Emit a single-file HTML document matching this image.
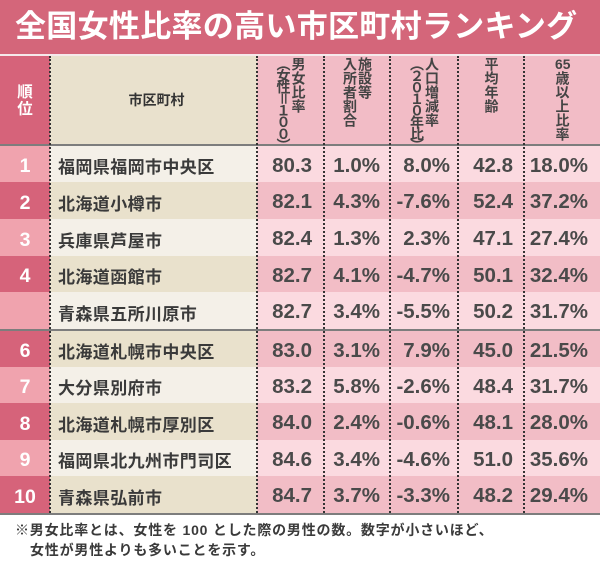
<!DOCTYPE html>
<html><head><meta charset="utf-8"><style>
*{margin:0;padding:0;box-sizing:border-box}
html,body{width:600px;height:563px;background:#fff;overflow:hidden}
body{position:relative;font-family:"Liberation Sans","Noto Sans CJK JP",sans-serif}
.abs{position:absolute}
#title{left:0;top:0;width:600px;height:54px;background:#d4667a;color:#fff;font-family:"Liberation Sans","Noto Sans CJK JP",sans-serif;font-weight:bold;font-size:31px;line-height:54px;padding-left:15px;letter-spacing:0.3px;white-space:nowrap}
#sep{left:0;top:54px;width:600px;height:2px;background:#f6e9eb}
.hrk{left:0;top:56px;width:50px;height:88px;background:#d6637a;color:#fff;font-weight:bold;font-size:15.5px;line-height:17px;text-align:center;padding-top:28px}
.hnm{left:50px;top:56px;width:207px;height:88px;background:#e9e1cd;color:#333;font-weight:bold;font-size:14px;line-height:88px;text-align:center;padding-left:6px}
.hd{top:56px;height:88px;background:#f2bcc6;display:flex;justify-content:center;padding-top:1px;overflow:hidden}
.vt{writing-mode:vertical-rl;font-weight:bold;font-size:14px;line-height:15px;color:#444;white-space:nowrap}
.sq{letter-spacing:-2.4px}
.tcy{text-combine-upright:all}
.row{position:absolute;left:0;width:600px}
.row div{position:absolute;top:0;height:100%}
.rk{left:0;width:50px;color:#fff;font-weight:bold;font-size:19.5px;text-align:center;display:flex;align-items:center;justify-content:center;padding-top:5px}
.nm{left:50px;width:207px;color:#3a3a3a;font-weight:bold;font-size:17px;letter-spacing:0.4px;padding-left:8px;display:flex;align-items:center;padding-top:3px;white-space:nowrap}
.dd{color:#4a4a4a;font-weight:bold;font-size:20.5px;text-align:right;display:flex;align-items:center;justify-content:flex-end;padding-top:3px;white-space:nowrap}
.d1{left:257px;width:67px;padding-right:12px}
.d2{left:324px;width:66px;padding-right:10px}
.d3{left:390px;width:68px;padding-right:8px}
.d4{left:458px;width:66px;padding-right:11px}
.d5{left:524px;width:76px;padding-right:12px}
.L .rk{background:#f0a3ae}.L .nm{background:#f4f0e8}.L .dd{background:#fbdae0}
.D .rk{background:#d6637a}.D .nm{background:#e9e1cc}.D .dd{background:#f2bdc6}
.hl{left:0;width:600px;height:2px;background:#7d7d7d}
.vl{top:56px;height:457px;width:0;border-left:2px dotted #333}
#fn{left:15px;top:520px;font-size:14px;line-height:20px;color:#3a3a3a;font-weight:bold;letter-spacing:0.8px;white-space:nowrap}
</style></head><body>
<div id="title" class="abs">全国女性比率の高い市区町村ランキング</div>
<div id="sep" class="abs"></div>

<div class="abs hrk">順<br>位</div>
<div class="abs hnm">市区町村</div>
<div class="abs hd" style="left:257px;width:67px"><div class="vt">男女比率<br><span class="sq">（女性＝１００）</span></div></div>
<div class="abs hd" style="left:324px;width:66px"><div class="vt">施設等<br>入所者割合</div></div>
<div class="abs hd" style="left:390px;width:68px"><div class="vt">人口増減率<br><span class="sq">（２０１０年比）</span></div></div>
<div class="abs hd" style="left:458px;width:66px"><div class="vt">平均年齢</div></div>
<div class="abs hd" style="left:524px;width:76px"><div class="vt"><span class="tcy">65</span>歳以上比率</div></div>

<div class="abs hl" style="top:144px"></div>

<div class="row L" style="top:146px;height:36px"><div class="rk">1</div><div class="nm">福岡県福岡市中央区</div><div class="dd d1">80.3</div><div class="dd d2">1.0%</div><div class="dd d3">8.0%</div><div class="dd d4">42.8</div><div class="dd d5">18.0%</div></div>
<div class="row D" style="top:182px;height:37px"><div class="rk">2</div><div class="nm">北海道小樽市</div><div class="dd d1">82.1</div><div class="dd d2">4.3%</div><div class="dd d3">-7.6%</div><div class="dd d4">52.4</div><div class="dd d5">37.2%</div></div>
<div class="row L" style="top:219px;height:37px"><div class="rk">3</div><div class="nm">兵庫県芦屋市</div><div class="dd d1">82.4</div><div class="dd d2">1.3%</div><div class="dd d3">2.3%</div><div class="dd d4">47.1</div><div class="dd d5">27.4%</div></div>
<div class="row D" style="top:256px;height:36px"><div class="rk">4</div><div class="nm">北海道函館市</div><div class="dd d1">82.7</div><div class="dd d2">4.1%</div><div class="dd d3">-4.7%</div><div class="dd d4">50.1</div><div class="dd d5">32.4%</div></div>
<div class="row L" style="top:292px;height:37px"><div class="rk"></div><div class="nm">青森県五所川原市</div><div class="dd d1">82.7</div><div class="dd d2">3.4%</div><div class="dd d3">-5.5%</div><div class="dd d4">50.2</div><div class="dd d5">31.7%</div></div>

<div class="abs hl" style="top:329px"></div>

<div class="row D" style="top:331px;height:36px"><div class="rk">6</div><div class="nm">北海道札幌市中央区</div><div class="dd d1">83.0</div><div class="dd d2">3.1%</div><div class="dd d3">7.9%</div><div class="dd d4">45.0</div><div class="dd d5">21.5%</div></div>
<div class="row L" style="top:367px;height:36px"><div class="rk">7</div><div class="nm">大分県別府市</div><div class="dd d1">83.2</div><div class="dd d2">5.8%</div><div class="dd d3">-2.6%</div><div class="dd d4">48.4</div><div class="dd d5">31.7%</div></div>
<div class="row D" style="top:403px;height:37px"><div class="rk">8</div><div class="nm">北海道札幌市厚別区</div><div class="dd d1">84.0</div><div class="dd d2">2.4%</div><div class="dd d3">-0.6%</div><div class="dd d4">48.1</div><div class="dd d5">28.0%</div></div>
<div class="row L" style="top:440px;height:36px"><div class="rk">9</div><div class="nm">福岡県北九州市門司区</div><div class="dd d1">84.6</div><div class="dd d2">3.4%</div><div class="dd d3">-4.6%</div><div class="dd d4">51.0</div><div class="dd d5">35.6%</div></div>
<div class="row D" style="top:476px;height:37px"><div class="rk">10</div><div class="nm">青森県弘前市</div><div class="dd d1">84.7</div><div class="dd d2">3.7%</div><div class="dd d3">-3.3%</div><div class="dd d4">48.2</div><div class="dd d5">29.4%</div></div>

<div class="abs hl" style="top:513px"></div>

<div class="abs vl" style="left:49px"></div>
<div class="abs vl" style="left:256px"></div>
<div class="abs vl" style="left:323px"></div>
<div class="abs vl" style="left:389px"></div>
<div class="abs vl" style="left:457px"></div>
<div class="abs vl" style="left:523px"></div>

<div id="fn" class="abs">※男女比率とは、女性を 100 とした際の男性の数。数字が小さいほど、<br><span style="padding-left:15px">女性が男性よりも多いことを示す。</span></div>
</body></html>
